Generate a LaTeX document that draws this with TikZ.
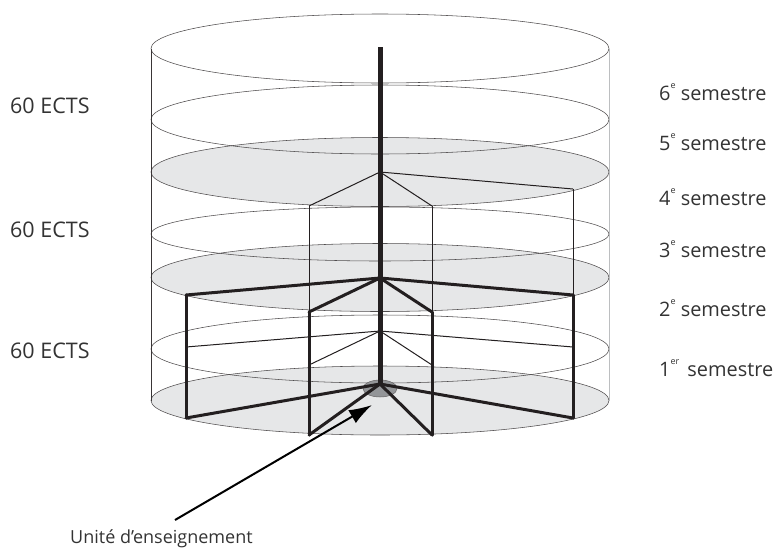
\documentclass[tikz,border=0pt]{standalone}
\usepackage{fontspec}
\setmainfont{Open Sans}
\usetikzlibrary{arrows.meta,positioning,shapes.geometric}
\usepackage{xcolor}
\definecolor{UELine}{HTML}{231F20}
\definecolor{UEDisc}{HTML}{E6E7E8}
\definecolor{UEHub}{HTML}{939598}
\definecolor{UEEdge}{HTML}{BCBEC0}
\definecolor{UEText}{HTML}{333333}
\newcommand{\ordx}[1]{\raisebox{.62em}{\fontsize{9}{9}\selectfont #1}}
\begin{document}
\begin{tikzpicture}[x=1pt,y=-1pt,
  d/.style={ellipse,draw=UELine!80,line width=.55pt,minimum width=458pt,minimum height=69pt,inner sep=0pt,outer sep=0pt},
  g/.style={ellipse,fill=UEDisc,minimum width=458pt,minimum height=69pt,inner sep=0pt,outer sep=0pt},
  t/.style={anchor=west,inner sep=0pt,text=UEText},
  sem/.style={t,font=\fontsize{19.9}{22}\selectfont},
  ects/.style={t,font=\fontsize{21.5}{24}\selectfont},
  thin1/.style={draw=UELine,line width=1pt},
  thick1/.style={draw=UELine,line width=3pt,line cap=round,line join=round},
  a/.style={-{Latex[length=23pt,width=15pt]},line width=2pt,draw=black}]
\useasboundingbox (0,0) rectangle (775,549);
% discs
\node[g] (s5) at (380,172) {};
\node[g,minimum height=68pt] (s3) at (380,277.5) {};
\node[g] (s1) at (380,400.5) {};
\node[d] (s6) at (380,48.5) {};
\node[d] (s5b) at (380,119.5) {};
\node[d,minimum height=54pt] (s4) at (380,234) {};
\node[d,minimum height=68pt] (s2) at (380,349) {};
\node[d] (s5c) at (380,172) {};
\node[d,minimum height=68pt] (s3c) at (380,277.5) {};
\node[d] (s1c) at (380,400.5) {};
\node[ellipse,draw=UELine!70,fill=UEHub,line width=.5pt,minimum width=34pt,minimum height=17pt,inner sep=0pt] (u) at (380,388.5) {};
% cylinder sides
\draw[UELine!90,line width=1pt] (s6.west) -- (s1.west);
\draw[UEEdge,line width=.9pt] (s6.east) -- (s1.east);
% joints
\coordinate (c6) at (380,47);
\coordinate (c3) at (380,172);
\coordinate (c2) at (380,278);
\coordinate (c1) at (380,331);
\coordinate (c0) at (380,384);
\coordinate (a3) at (309,206); \coordinate (b3) at (432,206); \coordinate (e3) at (573,189);
\coordinate (f2) at (186,295); \coordinate (a2) at (309,312); \coordinate (b2) at (432,312); \coordinate (e2) at (573,295);
\coordinate (f1) at (186,347); \coordinate (a1) at (309,365); \coordinate (b1) at (432,365); \coordinate (e1) at (573,347);
\coordinate (f0) at (186,418); \coordinate (a0) at (309,435); \coordinate (b0) at (432,435); \coordinate (e0) at (573,418);
% thin frame
\draw[thin1] (c3)--(a3); \draw[thin1] (c3)--(b3); \draw[thin1] (c3)--(e3);
\draw[thin1] (a3)--(a2); \draw[thin1] (b3)--(b2); \draw[thin1] (e3)--(e2);
\draw[thin1] (c1)--(f1); \draw[thin1] (c1)--(a1); \draw[thin1] (c1)--(b1); \draw[thin1] (c1)--(e1);
% thick frame
\draw[thick1] (c2)--(f2); \draw[thick1] (c2)--(a2); \draw[thick1] (c2)--(b2); \draw[thick1] (c2)--(e2);
\draw[thick1] (f2)--(f0); \draw[thick1] (a2)--(a0); \draw[thick1] (b2)--(b0); \draw[thick1] (e2)--(e0);
\draw[thick1] (c0)--(f0); \draw[thick1] (c0)--(a0); \draw[thick1] (c0)--(b0); \draw[thick1] (c0)--(e0);
\draw[draw=UELine,line width=5pt] (c6)--(c0);
% labels
\node[ects] (e3t) at (10,106) {60 ECTS};
\node[ects] (e2t) at (10,230) {60 ECTS};
\node[ects] (e1t) at (10,351) {60 ECTS};
\node[sem] (l6) at (659,92) {6\ordx{e} semestre};
\node[sem] (l5) at (659,142) {5\ordx{e} semestre};
\node[sem] (l4) at (659,197) {4\ordx{e} semestre};
\node[sem] (l3) at (659,249) {3\ordx{e} semestre};
\node[sem] (l2) at (659,308) {2\ordx{e} semestre};
\node[sem] (l1) at (659,368) {1\ordx{er}\hspace{3pt} semestre};
\node[t,font=\fontsize{18}{21}\selectfont] (ue) at (70,539) {Unité d’enseignement};
\coordinate (ast) at (175,520);
\coordinate (ati) at (372,405);
\draw[a] (ast)--(ati);
\end{tikzpicture}
\end{document}
